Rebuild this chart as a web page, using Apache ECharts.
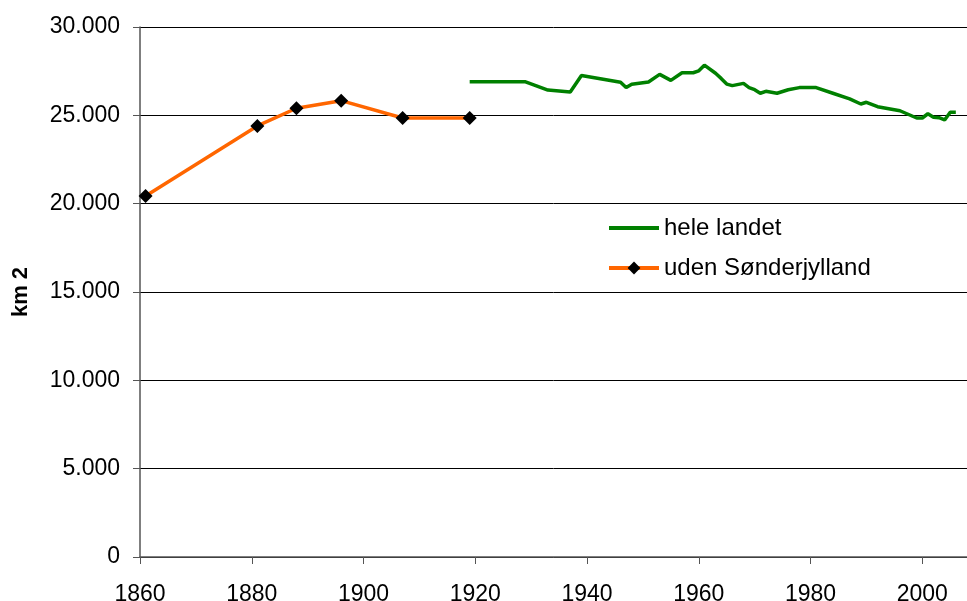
<!DOCTYPE html>
<html lang="da" style="height: 100%">
<head>
  <meta charset="utf-8">
</head>
<body style="height: 100%; margin: 0; background: #fff">
  <div id="container" style="width: 967px; height: 601px"></div>

  <script type="text/javascript" src="https://fastly.jsdelivr.net/npm/echarts@6/dist/echarts.min.js"></script>
  <script type="text/javascript">
    // hele landet (hele Danmark, fra 1919)
    var heleYears = [1919, 1929, 1933, 1937, 1939, 1946, 1947, 1948, 1951, 1953, 1955, 1957, 1959, 1960, 1961,
      1963, 1964, 1965, 1966, 1968, 1969, 1970, 1971, 1972, 1974, 1976, 1978, 1981, 1984, 1987, 1989, 1990,
      1992, 1996, 1999, 2000, 2001, 2002, 2003, 2004, 2005, 2006];
    var heleValues = [26900, 26900, 26430, 26320, 27250, 26870, 26570, 26760, 26890, 27320, 26980, 27410, 27410, 27520, 27840,
      27380, 27090, 26770, 26680, 26810, 26570, 26450, 26250, 26360, 26250, 26450, 26570, 26570, 26250, 25930, 25640, 25740,
      25490, 25260, 24850, 24850, 25090, 24890, 24870, 24740, 25170, 25170];

    // uden Sønderjylland
    var udenYears = [1861, 1881, 1888, 1896, 1907, 1919];
    var udenValues = [20440, 24400, 25400, 25830, 24850, 24850];

    var xTicks = [1860, 1880, 1900, 1920, 1940, 1960, 1980, 2000];
    var yTicks = [0, 5000, 10000, 15000, 20000, 25000, 30000];

    function pairs(xs, ys) {
      return xs.map(function (x, i) { return [x, ys[i]]; });
    }

    var font = 'Liberation Sans, Arial, sans-serif';
    var green = '#008000';
    var orange = '#FF6600';
    var myChart = echarts.init(document.getElementById('container'), null, { renderer: 'canvas' });

    var option = {
      animation: false,
      backgroundColor: '#fff',
      textStyle: { fontFamily: font },
      grid: { left: 140, right: 0, top: 27, bottom: 44, outerBoundsMode: 'none', containLabel: false },
      legend: {
        orient: 'vertical',
        left: 607,
        top: 216,
        padding: 0,
        itemWidth: 50,
        itemHeight: 16,
        itemGap: 16,
        textStyle: { fontSize: 24, color: '#000', fontFamily: font },
        data: [
          {
            name: 'hele landet',
            itemStyle: { color: 'rgba(0,0,0,0)', borderWidth: 0 },
            lineStyle: { color: green, width: 4 }
          },
          {
            name: 'uden Sønderjylland',
            itemStyle: { color: '#000' },
            lineStyle: { color: orange, width: 4 }
          }
        ]
      },
      xAxis: {
        type: 'value',
        min: xTicks[0],
        max: 2008,
        interval: 20,
        splitLine: { show: false },
        axisLine: { onZero: false, lineStyle: { color: '#555', width: 1.5 } },
        axisTick: { length: 7, lineStyle: { color: '#555' } },
        axisLabel: {
          margin: 26, fontSize: 23, color: '#000', fontFamily: font,
          showMaxLabel: false,
          formatter: function (v) { return xTicks.indexOf(v) >= 0 ? String(v) : ''; }
        }
      },
      yAxis: {
        type: 'value',
        min: yTicks[0],
        max: yTicks[yTicks.length - 1],
        interval: 5000,
        name: 'km 2',
        nameLocation: 'middle',
        nameGap: 108,
        nameRotate: 90,
        nameTextStyle: { fontSize: 22, fontWeight: 'bold', color: '#000', fontFamily: font },
        axisLine: { show: true, lineStyle: { color: '#555', width: 1.5 } },
        axisTick: { show: true, length: 7, lineStyle: { color: '#555' } },
        splitLine: { lineStyle: { color: '#000', width: 1 } },
        axisLabel: {
          margin: 20, fontSize: 23, color: '#000', fontFamily: font,
          formatter: function (v) { return String(v).replace(/\B(?=(\d{3})+(?!\d))/g, '.'); }
        }
      },
      series: [
        {
          name: 'hele landet',
          type: 'line',
          data: pairs(heleYears, heleValues),
          symbol: 'none',
          itemStyle: { color: green },
          lineStyle: { color: green, width: 3.5 }
        },
        {
          name: 'uden Sønderjylland',
          type: 'line',
          data: pairs(udenYears, udenValues),
          symbol: 'diamond',
          symbolSize: 14,
          itemStyle: { color: '#000' },
          lineStyle: { color: orange, width: 3.5 }
        }
      ]
    };

    myChart.setOption(option);
    window.addEventListener('resize', myChart.resize);
  </script>
</body>
</html>
